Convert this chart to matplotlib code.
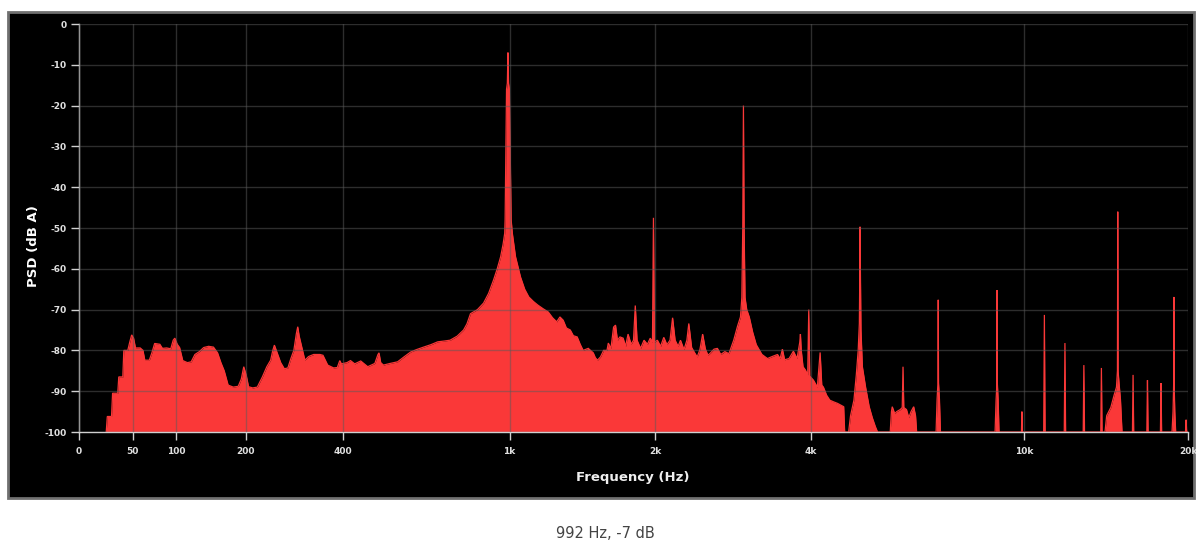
import numpy as np
import matplotlib
matplotlib.use("Agg")
import matplotlib.pyplot as plt
from matplotlib.patches import Rectangle

plt.rcParams["axes.unicode_minus"] = False

# ---------------- data (frequency in Hz, PSD in dB A) ----------------
low_band = [
    (24, -100), (25, -96.2), (29, -96.2), (30, -90.5), (35, -90.5), (36, -86.5),
    (40, -86.5), (41, -80), (45, -80), (47, -78), (49, -76.2), (51, -77),
    (53, -79.4), (58, -79.4), (61, -80), (63, -82.4), (68, -82.4), (71, -80.5),
    (74, -78.3), (80, -78.5), (83, -79.5), (88, -79.4), (93, -79.6), (96, -77.5),
    (98, -77), (101, -78.5), (104, -79.3), (108, -82.5), (114, -83), (119, -82.8),
    (124, -81), (130, -80.3), (136, -79.3), (143, -79), (150, -79.2), (156, -80.6),
    (161, -83), (166, -85), (172, -88.5), (180, -89), (188, -88.8), (193, -87),
    (197, -84), (201, -86), (205, -88.9), (212, -89.2), (220, -89), (229, -86.5),
    (237, -84), (244, -82.4), (248, -80), (251, -78.7), (256, -80.5), (263, -83),
    (270, -84.5), (277, -84.3), (283, -82), (289, -80), (294, -76), (297, -74.2),
    (300, -76.5), (305, -79), (312, -82.4), (320, -81.5), (331, -81), (345, -81),
    (352, -81.2), (363, -83.6), (377, -84.3), (386, -84.2), (392, -82.5), (396, -83.3),
    (410, -83), (419, -82.5), (430, -83.3), (446, -82.6), (465, -84), (485, -83.2),
    (494, -81), (497, -80.6), (502, -83), (510, -83.6), (530, -83.2), (553, -82.8),
    (575, -81.5), (595, -80.4), (615, -79.8), (639, -79.2), (665, -78.6), (690, -77.9),
    (715, -77.7), (737, -77.5), (765, -76.5), (791, -75), (805, -73.5), (820, -71),
    (850, -70), (877, -68.4), (900, -66), (923, -62.7), (940, -60), (956, -57.1),
    (968, -54), (976, -51.3),
]

fundamental = [
    (978, -48), (982, -30), (985, -16), (989, -14.5), (992, -7), (995, -14.5),
    (999, -16), (1003, -30), (1008, -48), (1014, -51.3), (1030, -57), (1056, -62),
    (1078, -65), (1100, -66.9), (1125, -68), (1150, -68.9), (1180, -69.8), (1210, -70.6),
    (1235, -72), (1260, -73), (1280, -71.8), (1300, -72.6), (1320, -74.5), (1345, -75),
    (1365, -76.4), (1390, -76.7), (1410, -78.5), (1430, -80), (1465, -79.5), (1500, -80.6),
    (1515, -81.8), (1530, -82.4),
]

mid_band = [
    (1552, -81.6), (1575, -80), (1600, -80), (1610, -78.2), (1630, -79.5), (1650, -74.3),
    (1665, -73.8), (1680, -77.5), (1700, -76.7), (1725, -77), (1745, -79), (1765, -76),
    (1790, -78.5), (1810, -77.5), (1825, -69), (1840, -77.5), (1870, -79.5), (1900, -77.5),
    (1930, -78.5), (1955, -77), (1975, -78), (1984, -47.5), (1993, -78), (2020, -77.5),
    (2050, -79), (2080, -76.8), (2110, -78.6), (2140, -77.5), (2165, -72), (2190, -77.5),
    (2220, -79), (2244, -77.5), (2280, -79.8), (2310, -77.5), (2330, -73.4), (2360, -79.3),
    (2390, -80.5), (2420, -81.6), (2450, -79.8), (2480, -76), (2510, -79.6), (2540, -81.2),
    (2570, -80.6), (2610, -79.7), (2650, -79.5), (2690, -81), (2740, -80.3), (2790, -80.8),
    (2850, -77.5), (2900, -74), (2937, -71.8), (2955, -67), (2967, -50), (2976, -20),
    (2985, -50), (2997, -67), (3020, -70), (3054, -71.8), (3100, -75.5), (3150, -78.6),
    (3230, -81), (3310, -82), (3380, -81.5), (3460, -81), (3500, -82), (3535, -79.7),
    (3570, -82.3), (3640, -82), (3710, -80.2), (3770, -82), (3815, -78), (3826, -76),
    (3840, -80), (3870, -84), (3910, -84.8), (3950, -86), (3968, -70), (3985, -86.3),
    (4050, -87.3), (4120, -89), (4170, -80.5), (4200, -88.5), (4230, -89), (4290, -91),
    (4350, -92.2), (4420, -92.6), (4500, -93), (4560, -93.4), (4620, -93.8), (4640, -100),
]

high_band = [
    (4720, -100), (4760, -96), (4830, -92.2), (4880, -86), (4920, -80), (4945, -73.4),
    (4955, -60), (4960, -49.7), (4967, -60), (4980, -75), (5010, -84), (5080, -89),
    (5160, -93.8), (5230, -96.5), (5300, -98.7), (5350, -100), (5650, -100), (5680, -95),
    (5700, -93.8), (5760, -95.5), (5810, -95), (5900, -94.5), (5950, -94), (5970, -84),
    (5990, -94), (6060, -94.5), (6120, -96.5), (6180, -95), (6250, -93.8), (6300, -96),
    (6330, -100), (6880, -100), (6910, -92), (6935, -88), (6944, -67.6), (6953, -88),
    (6980, -92), (7010, -100), (8850, -100), (8890, -92), (8920, -88), (8928, -65.2),
    (8936, -88), (8966, -92), (9000, -100), (9900, -100), (9920, -95), (9940, -100),
    (10880, -100), (10912, -71.3), (10944, -100), (11870, -100), (11904, -78.2), (11938, -100),
    (12860, -100), (12896, -83.6), (12932, -100), (13850, -100), (13888, -84.3), (13926, -100),
    (14100, -100), (14200, -96), (14450, -94), (14650, -91), (14800, -89), (14860, -85),
    (14880, -46), (14900, -85), (14960, -88), (15050, -92), (15150, -100), (15830, -100),
    (15872, -86), (15914, -100), (16820, -100), (16864, -87.3), (16908, -100), (17810, -100),
    (17856, -88), (17900, -100), (18700, -100), (18780, -95), (18830, -88), (18848, -66.9),
    (18866, -88), (18920, -95), (18990, -100), (19790, -100), (19840, -97), (19890, -100),
    (20000, -100),
]

x_ticks = [0, 50, 100, 200, 400, 1000, 2000, 4000, 10000, 20000]
x_tick_labels = ["0", "50", "100", "200", "400", "1k", "2k", "4k", "10k", "20k"]
y_ticks = [0, -10, -20, -30, -40, -50, -60, -70, -80, -90, -100]
peak_freq_hz = 992
peak_db = -7

spectrum = low_band + fundamental + mid_band + high_band
freq_hz = np.array([p[0] for p in spectrum], dtype=float)
psd_db = np.array([p[1] for p in spectrum], dtype=float)

# ---------------- frequency scale: log10(f + 200) ----------------
OFFSET = 200.0


def fwd(f):
    f = np.asarray(f, dtype=float)
    with np.errstate(invalid="ignore", divide="ignore"):
        return np.log10(np.maximum(f + OFFSET, 1e-9))


def inv(u):
    return 10 ** np.asarray(u, dtype=float) - OFFSET


W, H = 1196, 545
fig = plt.figure(figsize=(W / 100, H / 100), dpi=100, facecolor="white")

# black panel with grey border
fig.patches.append(Rectangle((8 / W, 1 - 498 / H), (1194 - 8) / W, (498 - 12) / H,
                             transform=fig.transFigure, facecolor="black",
                             edgecolor="#707070", lw=2.0, zorder=-10))

ax = fig.add_axes([79 / W, 1 - 432 / H, (1188 - 79) / W, (432 - 24) / H])
ax.set_zorder(5)
ax.set_facecolor("black")
ax.set_xscale("function", functions=(fwd, inv))
ax.set_xlim(0, 20000)
ax.set_ylim(-100, 0)

red = "#fa3838"
ax.fill_between(freq_hz, psd_db, -100, color=red, lw=0, zorder=2)
ax.plot(freq_hz, psd_db, color=red, lw=0.9, zorder=2, solid_joinstyle="miter")

ax.set_xticks(x_ticks)
ax.set_xticklabels(x_tick_labels)
ax.set_yticks(y_ticks)
ax.minorticks_off()

ax.set_axisbelow(False)
ax.grid(True, color="#5a5a5a", alpha=0.5, lw=1.0)

for s in ("top", "right"):
    ax.spines[s].set_visible(False)
for s in ("left", "bottom"):
    ax.spines[s].set_color("#d0d0d0")
    ax.spines[s].set_linewidth(1.0)

ax.tick_params(axis="both", colors="#d0d0d0", labelcolor="#e0e0e0",
               labelsize=6.5, length=6, width=1, direction="out")
ax.tick_params(axis="x", pad=5)
ax.tick_params(axis="y", pad=3)
for lbl in ax.get_xticklabels() + ax.get_yticklabels():
    lbl.set_fontweight("bold")

fig.text(33 / W, 1 - 246 / H, "PSD (dB A)", rotation=90, color="white",
         fontsize=9.5, fontweight="bold", ha="center", va="center", zorder=6)
fig.text(633 / W, 1 - 478 / H, "Frequency (Hz)", color="#eeeeee",
         fontsize=9.5, fontweight="bold", ha="center", va="center", zorder=6)
fig.text(605 / W, 1 - 533 / H, f"{peak_freq_hz} Hz, {peak_db} dB", color="#444444",
         fontsize=10.5, ha="center", va="center", zorder=6)

fig.savefig("out.png", dpi=100, facecolor="white")
